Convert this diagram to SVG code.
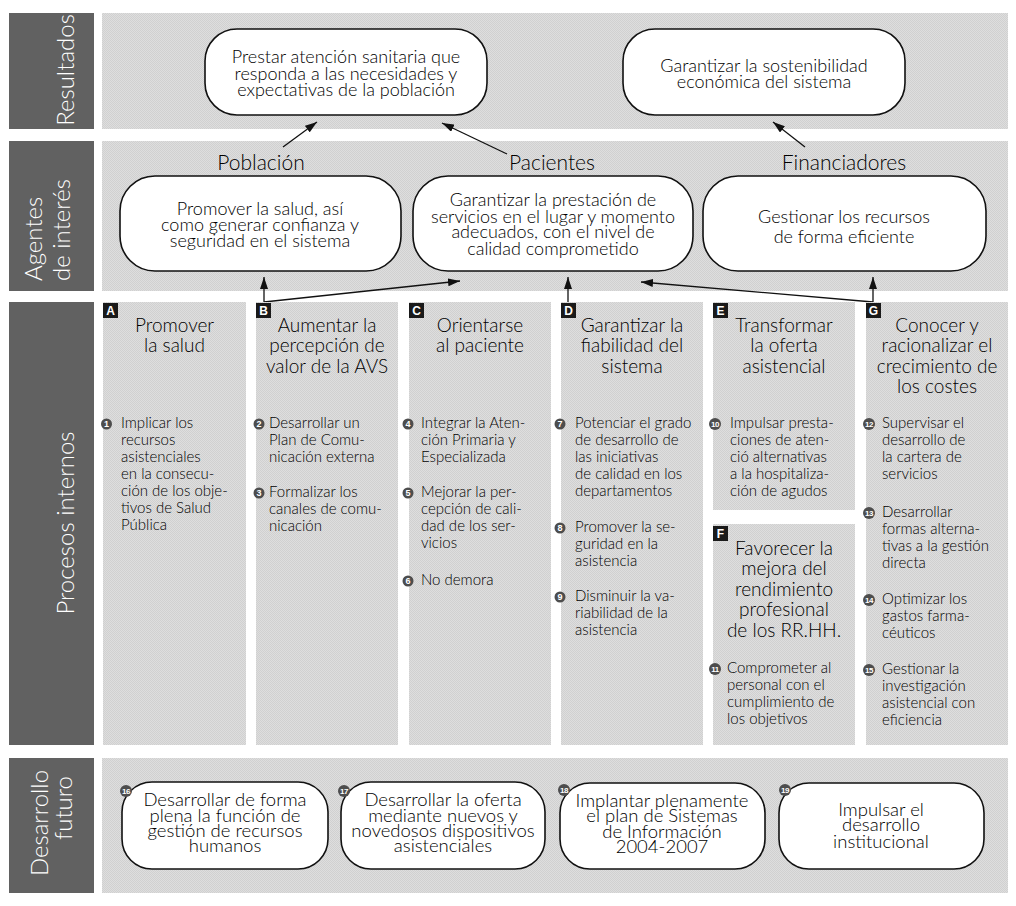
<svg xmlns="http://www.w3.org/2000/svg" width="1016" height="906" viewBox="0 0 1016 906">
<defs>
<pattern id="dither" width="2" height="2" patternUnits="userSpaceOnUse">
<rect width="2" height="2" fill="#dedede"/>
<rect width="1" height="1" fill="#d0d0d0"/>
<rect x="1" y="1" width="1" height="1" fill="#d0d0d0"/>
</pattern>
<marker id="ah" viewBox="0 0 12 8" refX="12" refY="4" markerWidth="12" markerHeight="8" markerUnits="userSpaceOnUse" orient="auto">
<path d="M0,0 L12,4 L0,8 z" fill="#111"/>
</marker>
<style>
.side{fill:#616161}
.panel{fill:url(#dither)}
.box{fill:#fff;stroke:#111;stroke-width:1.6}
text{font-family:Lato,"Liberation Sans",sans-serif;font-weight:300;fill:#000}
.st{fill:#fff;font-size:24px}
.bt{font-size:18px;text-anchor:middle}
.bt4{font-size:18.5px;text-anchor:middle}
.lbl{font-size:21px;text-anchor:middle}
.hd{font-size:19px;text-anchor:middle}
.it{font-size:15px}
.mk{fill:#1a1a1a}
.mkt{fill:#fff;font-family:"Liberation Sans",sans-serif;font-weight:bold;font-size:12px;text-anchor:middle}
.num{fill:#4d4d4d}
.numt{fill:#fff;font-family:"Liberation Sans",sans-serif;font-weight:bold;font-size:9px;text-anchor:middle}
.numt2{fill:#fff;font-family:"Liberation Sans",sans-serif;font-weight:bold;font-size:8px;text-anchor:middle;letter-spacing:-0.5px}
.ln{stroke:#111;stroke-width:1.3;fill:none}
</style>
</defs>

<g id="sidebars">
<rect class="side" x="9" y="13" width="85" height="116"/>
<text class="st" transform="translate(74,70) rotate(-90)" text-anchor="middle">Resultados</text>
<rect class="side" x="9" y="141" width="85" height="150"/>
<text class="st" transform="translate(42,281) rotate(-90)">Agentes</text>
<text class="st" transform="translate(70,281) rotate(-90)">de interés</text>
<rect class="side" x="9" y="302" width="85" height="443"/>
<text class="st" transform="translate(74,523) rotate(-90)" text-anchor="middle">Procesos internos</text>
<rect class="side" x="9" y="758" width="85" height="135"/>
<text class="st" transform="translate(48,823) rotate(-90)" text-anchor="middle">Desarrollo</text>
<text class="st" transform="translate(72,808) rotate(-90)" text-anchor="middle">futuro</text>
</g>

<g id="panels">
<rect class="panel" x="102" y="13" width="906" height="116"/>
<rect class="panel" x="102" y="141" width="906" height="150"/>
<rect class="panel" x="102" y="758" width="906" height="135"/>
</g>

<g id="connectors">
<line class="ln" x1="283" y1="147" x2="317" y2="122" marker-end="url(#ah)"/>
<line class="ln" x1="507" y1="154" x2="442" y2="123" marker-end="url(#ah)"/>
<line class="ln" x1="805" y1="147" x2="773" y2="122" marker-end="url(#ah)"/>
<line class="ln" x1="264" y1="303" x2="264" y2="277" marker-end="url(#ah)"/>
<line class="ln" x1="264" y1="302" x2="460" y2="281" marker-end="url(#ah)"/>
<line class="ln" x1="568" y1="303" x2="568" y2="277" marker-end="url(#ah)"/>
<line class="ln" x1="873" y1="303" x2="873" y2="277" marker-end="url(#ah)"/>
<line class="ln" x1="873" y1="302" x2="641" y2="282" marker-end="url(#ah)"/>
</g>

<g id="res1">
<rect class="box" x="205" y="29" width="282" height="86" rx="32"/>
<text class="bt"><tspan x="346" y="63">Prestar atención sanitaria que</tspan><tspan x="346" y="80">responda a las necesidades y</tspan><tspan x="346" y="96">expectativas de la población</tspan></text>
</g>
<g id="res2">
<rect class="box" x="623" y="29" width="282" height="86" rx="32"/>
<text class="bt"><tspan x="764" y="72">Garantizar la sostenibilidad</tspan><tspan x="764" y="88">económica del sistema</tspan></text>
</g>

<g id="lbl-poblacion"><text class="lbl" x="261" y="170">Población</text></g>
<g id="lbl-pacientes"><text class="lbl" x="552" y="170">Pacientes</text></g>
<g id="lbl-financiadores"><text class="lbl" x="844" y="170">Financiadores</text></g>

<g id="ag1">
<rect class="box" x="120" y="176" width="281" height="95" rx="35"/>
<text class="bt"><tspan x="260" y="215">Promover la salud, así</tspan><tspan x="260" y="231">como generar confianza y</tspan><tspan x="260" y="247">seguridad en el sistema</tspan></text>
</g>
<g id="ag2">
<rect class="box" x="413" y="176" width="280" height="95" rx="35"/>
<text class="bt"><tspan x="553" y="206">Garantizar la prestación de</tspan><tspan x="553" y="223">servicios en el lugar y momento</tspan><tspan x="553" y="238">adecuados, con el nivel de</tspan><tspan x="553" y="255">calidad comprometido</tspan></text>
</g>
<g id="ag3">
<rect class="box" x="703" y="176" width="283" height="95" rx="35"/>
<text class="bt"><tspan x="844" y="223">Gestionar los recursos</tspan><tspan x="844" y="243">de forma eficiente</tspan></text>
</g>

<g id="colA">
<rect class="panel" x="103" y="302" width="143" height="443"/>
<rect class="mk" x="103" y="303" width="15" height="15"/><text class="mkt" x="110.5" y="315">A</text>
<text class="hd"><tspan x="174.5" y="332">Promover</tspan><tspan x="174.5" y="352">la salud</tspan></text>
<circle class="num" cx="106.5" cy="424" r="5.5"/><text class="numt" x="106.5" y="427.3">1</text>
<text class="it"><tspan x="121" y="428">Implicar los</tspan><tspan x="121" y="445">recursos</tspan><tspan x="121" y="462">asistenciales</tspan><tspan x="121" y="479">en la consecu-</tspan><tspan x="121" y="496">ción de los obje-</tspan><tspan x="121" y="513">tivos de Salud</tspan><tspan x="121" y="530">Pública</tspan></text>
</g>

<g id="colB">
<rect class="panel" x="256" y="302" width="142" height="443"/>
<rect class="mk" x="256" y="303" width="15" height="15"/><text class="mkt" x="263.5" y="315">B</text>
<text class="hd"><tspan x="327" y="332">Aumentar la</tspan><tspan x="327" y="352">percepción de</tspan><tspan x="327" y="373">valor de la AVS</tspan></text>
<circle class="num" cx="259" cy="424" r="5.5"/><text class="numt" x="259" y="427.3">2</text>
<text class="it"><tspan x="269" y="428">Desarrollar un</tspan><tspan x="269" y="445">Plan de Comu-</tspan><tspan x="269" y="462">nicación externa</tspan></text>
<circle class="num" cx="259" cy="493" r="5.5"/><text class="numt" x="259" y="496.3">3</text>
<text class="it"><tspan x="269" y="497">Formalizar los</tspan><tspan x="269" y="514">canales de comu-</tspan><tspan x="269" y="531">nicación</tspan></text>
</g>

<g id="colC">
<rect class="panel" x="409" y="302" width="142" height="443"/>
<rect class="mk" x="409" y="303" width="15" height="15"/><text class="mkt" x="416.5" y="315">C</text>
<text class="hd"><tspan x="480" y="332">Orientarse</tspan><tspan x="480" y="352">al paciente</tspan></text>
<circle class="num" cx="408" cy="424" r="5.5"/><text class="numt" x="408" y="427.3">4</text>
<text class="it"><tspan x="421" y="428">Integrar la Aten-</tspan><tspan x="421" y="445">ción Primaria y</tspan><tspan x="421" y="462">Especializada</tspan></text>
<circle class="num" cx="408" cy="493" r="5.5"/><text class="numt" x="408" y="496.3">5</text>
<text class="it"><tspan x="421" y="497">Mejorar la per-</tspan><tspan x="421" y="514">cepción de cali-</tspan><tspan x="421" y="531">dad de los ser-</tspan><tspan x="421" y="548">vicios</tspan></text>
<circle class="num" cx="408" cy="581" r="5.5"/><text class="numt" x="408" y="584.3">6</text>
<text class="it"><tspan x="421" y="585">No demora</tspan></text>
</g>

<g id="colD">
<rect class="panel" x="561" y="302" width="142" height="443"/>
<rect class="mk" x="561" y="303" width="15" height="15"/><text class="mkt" x="568.5" y="315">D</text>
<text class="hd"><tspan x="632" y="332">Garantizar la</tspan><tspan x="632" y="352">fiabilidad del</tspan><tspan x="632" y="373">sistema</tspan></text>
<circle class="num" cx="560" cy="424" r="5.5"/><text class="numt" x="560" y="427.3">7</text>
<text class="it"><tspan x="575" y="428">Potenciar el grado</tspan><tspan x="575" y="445">de desarrollo de</tspan><tspan x="575" y="462">las iniciativas</tspan><tspan x="575" y="479">de calidad en los</tspan><tspan x="575" y="496">departamentos</tspan></text>
<circle class="num" cx="560" cy="528" r="5.5"/><text class="numt" x="560" y="531.3">8</text>
<text class="it"><tspan x="575" y="532">Promover la se-</tspan><tspan x="575" y="549">guridad en la</tspan><tspan x="575" y="566">asistencia</tspan></text>
<circle class="num" cx="560" cy="597" r="5.5"/><text class="numt" x="560" y="600.3">9</text>
<text class="it"><tspan x="575" y="601">Disminuir la va-</tspan><tspan x="575" y="618">riabilidad de la</tspan><tspan x="575" y="635">asistencia</tspan></text>
</g>

<g id="colE">
<rect class="panel" x="713" y="302" width="142" height="208"/>
<rect class="mk" x="713" y="303" width="15" height="15"/><text class="mkt" x="720.5" y="315">E</text>
<text class="hd"><tspan x="784" y="332">Transformar</tspan><tspan x="784" y="352">la oferta</tspan><tspan x="784" y="373">asistencial</tspan></text>
<circle class="num" cx="715" cy="424" r="6"/><text class="numt2" x="715" y="426.8">10</text>
<text class="it"><tspan x="730" y="428">Impulsar presta-</tspan><tspan x="730" y="445">ciones de aten-</tspan><tspan x="730" y="462">ció alternativas</tspan><tspan x="730" y="479">a la hospitaliza-</tspan><tspan x="730" y="496">ción de agudos</tspan></text>
</g>

<g id="colF">
<rect class="panel" x="713" y="524" width="142" height="221"/>
<rect class="mk" x="713" y="526" width="15" height="15"/><text class="mkt" x="720.5" y="538">F</text>
<text class="hd"><tspan x="784" y="555">Favorecer la</tspan><tspan x="784" y="575">mejora del</tspan><tspan x="784" y="596">rendimiento</tspan><tspan x="784" y="616">profesional</tspan><tspan x="784" y="637">de los RR.HH.</tspan></text>
<circle class="num" cx="715" cy="669" r="6"/><text class="numt2" x="715" y="671.8">11</text>
<text class="it"><tspan x="727" y="673">Comprometer al</tspan><tspan x="727" y="690">personal con el</tspan><tspan x="727" y="707">cumplimiento de</tspan><tspan x="727" y="724">los objetivos</tspan></text>
</g>

<g id="colG">
<rect class="panel" x="866" y="302" width="142" height="443"/>
<rect class="mk" x="866" y="303" width="15" height="15"/><text class="mkt" x="873.5" y="315">G</text>
<text class="hd"><tspan x="937" y="332">Conocer y</tspan><tspan x="937" y="352">racionalizar el</tspan><tspan x="937" y="373">crecimiento de</tspan><tspan x="937" y="393">los costes</tspan></text>
<circle class="num" cx="869" cy="424" r="6"/><text class="numt2" x="869" y="426.8">12</text>
<text class="it"><tspan x="882" y="428">Supervisar el</tspan><tspan x="882" y="445">desarrollo de</tspan><tspan x="882" y="462">la cartera de</tspan><tspan x="882" y="479">servicios</tspan></text>
<circle class="num" cx="869" cy="513" r="6"/><text class="numt2" x="869" y="515.8">13</text>
<text class="it"><tspan x="882" y="517">Desarrollar</tspan><tspan x="882" y="534">formas alterna-</tspan><tspan x="882" y="551">tivas a la gestión</tspan><tspan x="882" y="568">directa</tspan></text>
<circle class="num" cx="869" cy="600" r="6"/><text class="numt2" x="869" y="602.8">14</text>
<text class="it"><tspan x="882" y="604">Optimizar los</tspan><tspan x="882" y="621">gastos farma-</tspan><tspan x="882" y="638">céuticos</tspan></text>
<circle class="num" cx="869" cy="670" r="6"/><text class="numt2" x="869" y="672.8">15</text>
<text class="it"><tspan x="882" y="674">Gestionar la</tspan><tspan x="882" y="691">investigación</tspan><tspan x="882" y="708">asistencial con</tspan><tspan x="882" y="725">eficiencia</tspan></text>
</g>

<g id="fut16">
<rect class="box" x="122" y="782" width="206" height="87" rx="30"/>
<text class="bt4"><tspan x="225" y="806">Desarrollar de forma</tspan><tspan x="225" y="822">plena la función de</tspan><tspan x="225" y="837">gestión de recursos</tspan><tspan x="225" y="852">humanos</tspan></text>
<circle class="num" cx="126" cy="791" r="6"/><text class="numt2" x="126" y="793.8">16</text>
</g>
<g id="fut17">
<rect class="box" x="341" y="782" width="204" height="87" rx="30"/>
<text class="bt4"><tspan x="443" y="806">Desarrollar la oferta</tspan><tspan x="443" y="822">mediante nuevos y</tspan><tspan x="443" y="837">novedosos dispositivos</tspan><tspan x="443" y="852">asistenciales</tspan></text>
<circle class="num" cx="344" cy="791" r="6"/><text class="numt2" x="344" y="793.8">17</text>
</g>
<g id="fut18">
<rect class="box" x="560" y="783" width="205" height="86" rx="30"/>
<text class="bt4"><tspan x="662" y="807">Implantar plenamente</tspan><tspan x="662" y="822">el plan de Sistemas</tspan><tspan x="662" y="838">de Información</tspan><tspan x="662" y="853">2004-2007</tspan></text>
<circle class="num" cx="564" cy="790" r="6"/><text class="numt2" x="564" y="792.8">18</text>
</g>
<g id="fut19">
<rect class="box" x="779" y="783" width="205" height="86" rx="30"/>
<text class="bt4"><tspan x="881" y="816">Impulsar el</tspan><tspan x="881" y="831">desarrollo</tspan><tspan x="881" y="848">institucional</tspan></text>
<circle class="num" cx="785" cy="790" r="6"/><text class="numt2" x="785" y="792.8">19</text>
</g>
</svg>
